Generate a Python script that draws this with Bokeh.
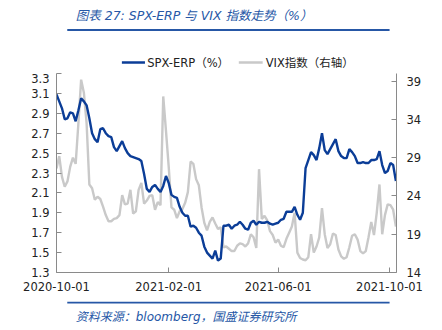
import pandas as pd
from bokeh.plotting import figure
from bokeh.layouts import column
from bokeh.models import (Range1d, LinearAxis, FixedTicker, DatetimeTickFormatter,
                          PrintfTickFormatter, ColumnDataSource)
from bokeh.core.properties import value
from bokeh.embed import file_html
from bokeh.resources import INLINE

start_date = "2020-10-01"
dates = pd.date_range(start_date, periods=125, freq="3D")

spx_erp = [
    3.09, 3.02, 2.95, 2.84, 2.85, 2.91, 2.90, 2.82, 2.93, 3.05,
    3.02, 2.98, 2.85, 2.70, 2.64, 2.61, 2.74, 2.75, 2.70, 2.67,
    2.66, 2.56, 2.52, 2.57, 2.62, 2.55, 2.50, 2.47, 2.46, 2.45,
    2.44, 2.42, 2.29, 2.14, 2.11, 2.16, 2.18, 2.14, 2.11, 2.17,
    2.27, 2.20, 2.08, 2.06, 2.05, 1.96, 1.90, 1.87, 1.87, 1.76,
    1.77, 1.75, 1.70, 1.67, 1.56, 1.50, 1.47, 1.44, 1.52, 1.42,
    1.44, 1.77, 1.77, 1.78, 1.74, 1.77, 1.78, 1.81, 1.78, 1.74,
    1.73, 1.80, 1.82, 1.78, 1.81, 1.80, 1.80, 1.81, 1.79, 1.78,
    1.79, 1.80, 1.83, 1.84, 1.91, 1.91, 1.91, 1.96, 1.88, 1.83,
    1.90, 2.35, 2.43, 2.51, 2.48, 2.43, 2.55, 2.70, 2.53, 2.49,
    2.54, 2.59, 2.64, 2.52, 2.47, 2.45, 2.45, 2.54, 2.51, 2.47,
    2.40, 2.40, 2.41, 2.40, 2.40, 2.43, 2.43, 2.44, 2.52, 2.38,
    2.30, 2.32, 2.40, 2.38, 2.22,
]

vix = [
    27.6, 29.2, 26.5, 25.2, 25.9, 27.8, 29.0, 28.2, 33.5, 39.2,
    37.5, 33.5, 25.5, 25.0, 23.5, 23.9, 23.6, 22.6, 21.5, 20.7,
    20.7, 21.0, 21.1, 21.5, 24.1, 22.9, 23.0, 24.8, 21.7, 22.0,
    24.8, 25.7, 23.0, 23.4, 24.0, 24.1, 22.2, 23.2, 22.8, 37.0,
    32.5, 27.8, 22.5, 22.2, 21.1, 22.0, 22.3, 23.1, 24.5, 28.5,
    28.2, 26.2, 25.4, 22.5, 20.5, 19.5, 20.6, 21.2, 20.4, 19.7,
    19.9, 17.3, 17.4, 17.1, 16.8, 16.8, 17.5, 17.8, 17.7, 17.4,
    17.8, 19.0, 18.6, 17.2, 27.5, 21.0, 21.4, 20.8, 19.4, 18.9,
    17.9, 18.3, 17.5, 17.3, 18.4, 19.2, 20.0, 21.8, 16.6, 15.9,
    15.7, 15.6, 16.0, 19.0, 16.6, 17.4, 18.6, 22.4, 19.0, 17.2,
    17.7, 19.1, 18.9, 17.0, 16.1, 15.8, 16.0, 17.3, 18.8, 19.0,
    18.3, 16.8, 16.5, 16.8, 18.6, 20.6, 18.9, 21.8, 25.5, 19.0,
    21.5, 22.9, 22.8, 22.2, 20.0,
]

left_ticks = [1.3, 1.5, 1.7, 1.9, 2.1, 2.3, 2.5, 2.7, 2.9, 3.1, 3.3]
right_ticks = [14, 19, 24, 29, 34, 39]
x_tick_labels = ["2020-10-01", "2021-02-01", "2021-06-01", "2021-10-01"]
x_end = "2021-10-08 16:00"

title_text = "图表 27:  SPX-ERP 与 VIX 指数走势（%）"
legend_erp = "SPX-ERP（%）"
legend_vix = "VIX指数（右轴）"
footer_text = "资料来源：bloomberg，国盛证券研究所"

# ---------------- styles ----------------
BLUE = "#0b3d97"
GRAY = "#c9c9c9"
ACCENT = "#2657a6"
AXIS = "#8a8a8a"
TXT = "#222222"
FONT = "DejaVu Sans, Noto Sans CJK SC"
W = 442


def blank(height):
    f = figure(width=W, height=height, x_range=Range1d(0, W), y_range=Range1d(height, 0),
               output_backend="svg", toolbar_location=None,
               x_axis_location=None, y_axis_location=None,
               min_border=0, min_border_left=0, min_border_right=0,
               min_border_top=0, min_border_bottom=0)
    f.outline_line_color = None
    f.grid.visible = False
    f.background_fill_color = "white"
    f.border_fill_color = "white"
    return f


# ---------------- header: title, rule, legend ----------------
head = blank(73)
head.text(x=[25], y=[15], text=[title_text], text_font=value(FONT),
          text_font_size="12.5px", text_font_style="italic", text_color=ACCENT,
          text_baseline="middle")
head.line(x=[14, 433], y=[29.5, 29.5], line_color=ACCENT, line_width=2)
head.line(x=[85, 115], y=[62, 62], line_color=BLUE, line_width=2.4)
head.text(x=[118], y=[62], text=[legend_erp], text_font=value(FONT),
          text_font_size="11.5px", text_color=TXT, text_baseline="middle")
head.line(x=[237, 268], y=[62, 62], line_color=GRAY, line_width=2.4)
head.text(x=[272], y=[62], text=[legend_vix], text_font=value(FONT),
          text_font_size="11.5px", text_color=TXT, text_baseline="middle")

# ---------------- main chart ----------------
src = ColumnDataSource(dict(date=dates, erp=spx_erp, vix=vix))

p = figure(width=W, height=228, x_axis_type="datetime",
           x_range=Range1d(pd.Timestamp(start_date), pd.Timestamp(x_end)),
           y_range=Range1d(1.3, 3.3),
           output_backend="svg", toolbar_location=None,
           min_border_left=56, min_border_right=46,
           min_border_top=0, min_border_bottom=29)
p.extra_y_ranges = {"vix": Range1d(14, 40)}
p.outline_line_color = None
p.xgrid.visible = False
p.ygrid.visible = False
p.background_fill_color = "white"
p.border_fill_color = "white"

p.line("date", "vix", source=src, y_range_name="vix", color=GRAY, line_width=2.4)
p.line("date", "erp", source=src, color=BLUE, line_width=2.4)

xa = p.xaxis[0]
xa.ticker = FixedTicker(ticks=[pd.Timestamp(t).value / 1e6 for t in x_tick_labels])
fmt = "%Y-%m-%d"
xa.formatter = DatetimeTickFormatter(milliseconds=fmt, seconds=fmt, minsec=fmt, minutes=fmt,
                                     hourmin=fmt, hours=fmt, days=fmt, months=fmt, years=fmt)
ya = p.yaxis[0]
ya.ticker = FixedTicker(ticks=left_ticks)
ya.formatter = PrintfTickFormatter(format="%.1f")

ra = LinearAxis(y_range_name="vix", ticker=FixedTicker(ticks=right_ticks))
p.add_layout(ra, "right")

for ax in (xa, ya, ra):
    ax.axis_line_color = AXIS
    ax.axis_line_width = 1
    ax.major_tick_line_color = AXIS
    ax.major_tick_in = 5
    ax.major_tick_out = 0
    ax.minor_tick_line_color = None
    ax.major_label_text_font = "DejaVu Sans"
    ax.major_label_text_font_size = "11.5px"
    ax.major_label_text_color = TXT
xa.major_label_standoff = 9
ya.major_label_standoff = 7
ra.major_label_standoff = 10

# ---------------- footer: rule, source ----------------
foot = blank(29)
foot.line(x=[14, 433], y=[1, 1], line_color=ACCENT, line_width=2)
foot.text(x=[25], y=[15], text=[footer_text], text_font=value(FONT),
          text_font_size="12px", text_font_style="italic", text_color=ACCENT,
          text_baseline="middle")

layout = column(head, p, foot, spacing=0)
open("out.html", "w").write(file_html(layout, INLINE))
